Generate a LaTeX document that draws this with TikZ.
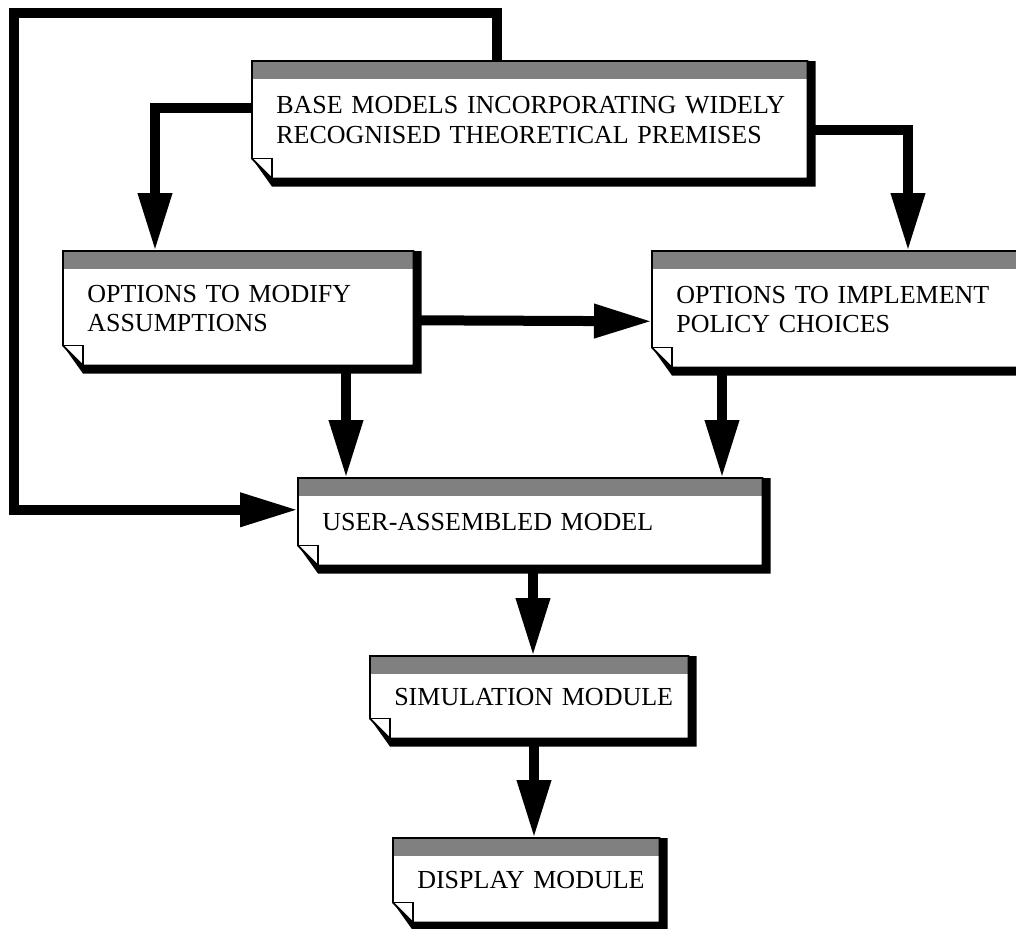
\documentclass[tikz,border=0pt]{standalone}
\usepackage{fontspec}
\setmainfont{Liberation Serif}
\usetikzlibrary{arrows.meta,calc}
\pgfdeclarelayer{bg}
\pgfsetlayers{bg,main}
\newcommand{\paperfont}{\fontsize{18.5}{21}\selectfont}
\tikzset{
  paper/.style={anchor=north west,inner xsep=0.6cm,inner ysep=0pt,text width=#1,align=left,font=\paperfont},
  flow/.style={line width=0.25cm,line join=miter,-{Triangle[length=1.45cm,width=0.8cm]}},
  edge/.style={line width=1.2pt,line join=miter}
}
\newcommand{\paperdeco}[1]{%
  \begin{pgfonlayer}{bg}
  \fill (#1.north east) -- ++(0.2,0) -- ($(#1.south east)+(0.2,-0.2)$) -- ($(#1.south west)+(0.5,-0.2)$) -- ($(#1.south west)+(0,0.5)$) -- cycle;
  \fill[white] (#1.north west) -- (#1.north east) -- (#1.south east) -- ($(#1.south west)+(0.5,0)$) -- ($(#1.south west)+(0,0.5)$) -- cycle;
  \fill[black!50] (#1.north west) rectangle ($(#1.north east)+(0,-0.45)$);
  \draw[edge] (#1.north west) -- (#1.north east) -- (#1.south east) -- ($(#1.south west)+(0.5,0)$) -- ($(#1.south west)+(0,0.5)$) -- cycle;
  \draw[edge] ($(#1.south west)+(0,0.5)$) -- ++(0.5,0) -- ++(0,-0.5);
  \end{pgfonlayer}}

\begin{document}
\begin{tikzpicture}
\useasboundingbox (0,0) rectangle (25.4,-23.2);
\node[paper=12.675cm,minimum height=2.925cm] (base) at (6.3,-1.525) {\mbox{BASE MODELS INCORPORATING WIDELY}\\\mbox{RECOGNISED THEORETICAL PREMISES}};
\node[paper=7.55cm,minimum height=2.85cm] (optmod) at (1.575,-6.275) {\mbox{OPTIONS TO MODIFY}\\\mbox{ASSUMPTIONS}};
\node[paper=8.25cm,minimum height=2.9cm] (optpol) at (16.3,-6.275) {\mbox{OPTIONS TO IMPLEMENT}\\\mbox{POLICY CHOICES}};
\node[paper=10.4cm,minimum height=2.175cm] (user) at (7.45,-11.95) {\mbox{USER-ASSEMBLED MODEL}};
\node[paper=6.75cm,minimum height=2.05cm] (sim) at (9.25,-16.4) {\mbox{SIMULATION MODULE}};
\node[paper=5.45cm,minimum height=2.1cm] (disp) at (9.825,-20.95) {\mbox{DISPLAY MODULE}};
\foreach \b in {base,optmod,optpol,user,sim,disp} {\paperdeco{\b}}
\coordinate (looptl) at (0.35,-0.325);
\coordinate (basetop) at ($(base.north west)+(6.125,0)$);
\coordinate (modtop) at ($(optmod.north west)+(2.3,0)$);
\coordinate (poltop) at ($(optpol.north west)+(6.4,0)$);
\coordinate (modbot) at ($(optmod.south west)+(7.075,0)$);
\coordinate (polbot) at ($(optpol.south west)+(1.75,0)$);
\coordinate (userbot) at ($(user.south west)+(5.875,0)$);
\coordinate (simbot) at ($(sim.south west)+(4.1,0)$);
\draw[flow] (basetop) |- (looptl) |- ($(user.west)+(0,0.3)$);
\draw[flow] ($(base.west)+(0,0.29)$) -| (modtop);
\draw[flow] ($(base.east)+(0,-0.26)$) -| (poltop);
\draw[flow] ($(optmod.east)+(0,-0.3)$) -- ($(optpol.west)+(0,-0.3)$);
\draw[flow] (modbot) -- (modbot |- user.north);
\draw[flow] (polbot) -- (polbot |- user.north);
\draw[flow] (userbot) -- (userbot |- sim.north);
\draw[flow] (simbot) -- (simbot |- disp.north);
\end{tikzpicture}
\end{document}
